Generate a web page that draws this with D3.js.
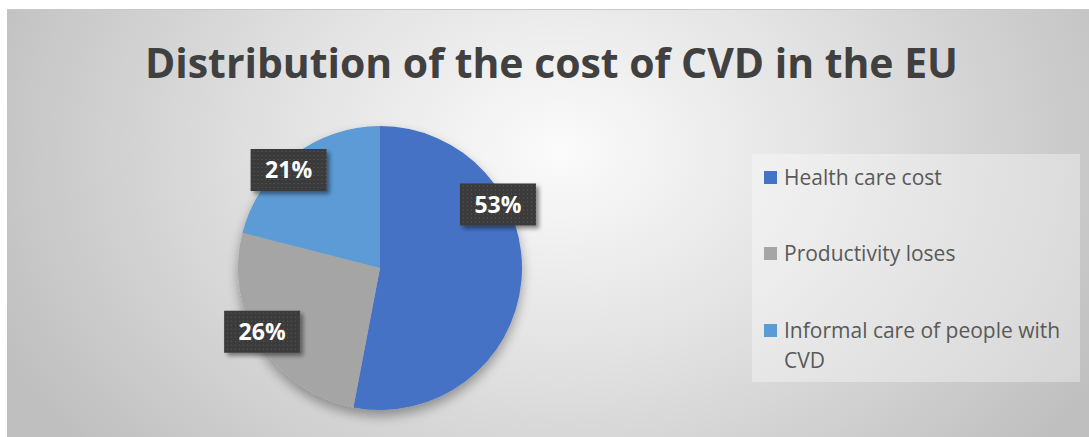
<!DOCTYPE html>
<html>
<head>
<meta charset="utf-8">
<script src="https://cdn.jsdelivr.net/npm/d3@7"></script>
<style>
  html, body { margin: 0; padding: 0; background: #ffffff; }
  svg { display: block; }
</style>
</head>
<body>
<svg id="chart" width="1089" height="437"></svg>
<script>
// ---- data ----
const categories = ["Health care cost", "Productivity loses", "Informal care of people with CVD"];
const legendLines = [["Health care cost"], ["Productivity loses"], ["Informal care of people with", "CVD"]];
const values = [53, 26, 21];
const labels = ["53%", "26%", "21%"];
const colors = ["#4472C4", "#A5A5A5", "#5B9BD5"];
const title = "Distribution of the cost of CVD in the EU";

// ---- layout ----
const W = 1089, H = 437;
const svg = d3.select("#chart");
const defs = svg.append("defs");

// background gradient
const bg = defs.append("radialGradient").attr("id", "bgGrad")
  .attr("gradientUnits", "userSpaceOnUse")
  .attr("cx", 560).attr("cy", 150).attr("r", 620)
  .attr("gradientTransform", "translate(560,150) scale(1,0.75) translate(-560,-150)");
bg.append("stop").attr("offset", "0%").attr("stop-color", "#fbfbfb");
bg.append("stop").attr("offset", "45%").attr("stop-color", "#e2e2e2");
bg.append("stop").attr("offset", "100%").attr("stop-color", "#bfbfbf");

// shadows
const sh = defs.append("filter").attr("id", "pieShadow")
  .attr("x", "-30%").attr("y", "-30%").attr("width", "160%").attr("height", "160%");
sh.append("feGaussianBlur").attr("in", "SourceAlpha").attr("stdDeviation", 6).attr("result", "b");
sh.append("feOffset").attr("in", "b").attr("dx", 0).attr("dy", 6).attr("result", "o");
sh.append("feComponentTransfer").attr("in", "o").attr("result", "o2")
  .append("feFuncA").attr("type", "linear").attr("slope", 0.35);
const m1 = sh.append("feMerge");
m1.append("feMergeNode").attr("in", "o2");
m1.append("feMergeNode").attr("in", "SourceGraphic");

const ls = defs.append("filter").attr("id", "lblShadow")
  .attr("x", "-30%").attr("y", "-30%").attr("width", "160%").attr("height", "160%");
ls.append("feGaussianBlur").attr("in", "SourceAlpha").attr("stdDeviation", 2).attr("result", "b");
ls.append("feOffset").attr("in", "b").attr("dx", 3).attr("dy", 3).attr("result", "o");
ls.append("feComponentTransfer").attr("in", "o").attr("result", "o2")
  .append("feFuncA").attr("type", "linear").attr("slope", 0.45);
const m2 = ls.append("feMerge");
m2.append("feMergeNode").attr("in", "o2");
m2.append("feMergeNode").attr("in", "SourceGraphic");

// dotted pattern for label boxes
const pat = defs.append("pattern").attr("id", "dots")
  .attr("patternUnits", "userSpaceOnUse").attr("width", 4).attr("height", 4);
pat.append("rect").attr("width", 4).attr("height", 4).attr("fill", "#3b3b3b");
pat.append("rect").attr("x", 1).attr("y", 1).attr("width", 1).attr("height", 1).attr("fill", "#5a5a5a");

// chart area background
svg.append("rect").attr("x", 7).attr("y", 9).attr("width", W - 7).attr("height", H - 9)
  .attr("fill", "url(#bgGrad)");
svg.append("line").attr("x1", 7).attr("x2", W).attr("y1", 9.5).attr("y2", 9.5)
  .attr("stroke", "#c9c9c9").attr("stroke-width", 1);

// title
svg.append("text")
  .attr("x", 145).attr("y", 78)
  .attr("textLength", 813).attr("lengthAdjust", "spacingAndGlyphs")
  .attr("font-family", "'Open Sans', sans-serif").attr("font-weight", 700)
  .attr("font-size", 42).attr("fill", "#404040")
  .text(title);

// pie
const cx = 380, cy = 268, R = 142;
const pie = d3.pie().sort(null).value(d => d)(values);
const arc = d3.arc().innerRadius(0).outerRadius(R);
const g = svg.append("g").attr("transform", `translate(${cx},${cy})`);
g.append("g").attr("filter", "url(#pieShadow)")
  .selectAll("path").data(pie).join("path")
  .attr("d", arc).attr("fill", (d, i) => colors[i]);

// data labels (best-fit placement: shift along the arc)
const angleShift = [-33.7, 4, -5.2];
const labelR = 134;
const lblG = g.append("g");
pie.forEach((d, i) => {
  const a = ((d.startAngle + d.endAngle) / 2) + angleShift[i] * Math.PI / 180;
  const x = labelR * Math.sin(a), y = -labelR * Math.cos(a);
  const bw = 76, bh = 42;
  const gg = lblG.append("g").attr("transform", `translate(${x},${y})`);
  gg.append("rect").attr("x", -bw / 2).attr("y", -bh / 2).attr("width", bw).attr("height", bh)
    .attr("fill", "url(#dots)").attr("filter", "url(#lblShadow)");
  gg.append("text").attr("x", 0).attr("y", 8.5)
    .attr("text-anchor", "middle")
    .attr("font-family", "'Open Sans', sans-serif").attr("font-weight", 700)
    .attr("font-size", 23).attr("fill", "#ffffff")
    .text(labels[i]);
});

// legend
const lg = svg.append("g");
lg.append("rect").attr("x", 752).attr("y", 154).attr("width", 328).attr("height", 228)
  .attr("fill", "#ffffff").attr("fill-opacity", 0.35);
const itemY = [177, 253, 330];
categories.forEach((c, i) => {
  lg.append("rect").attr("x", 764).attr("y", itemY[i] - 6).attr("width", 13).attr("height", 13)
    .attr("fill", colors[i]);
  const t = lg.append("text").attr("x", 784).attr("y", itemY[i] + 7.5)
    .attr("font-family", "'Open Sans', sans-serif").attr("font-size", 21).attr("fill", "#595959");
  legendLines[i].forEach((ln, j) => {
    t.append("tspan").attr("x", 784).attr("dy", j === 0 ? 0 : 30).text(ln);
  });
});
</script>
</body>
</html>
